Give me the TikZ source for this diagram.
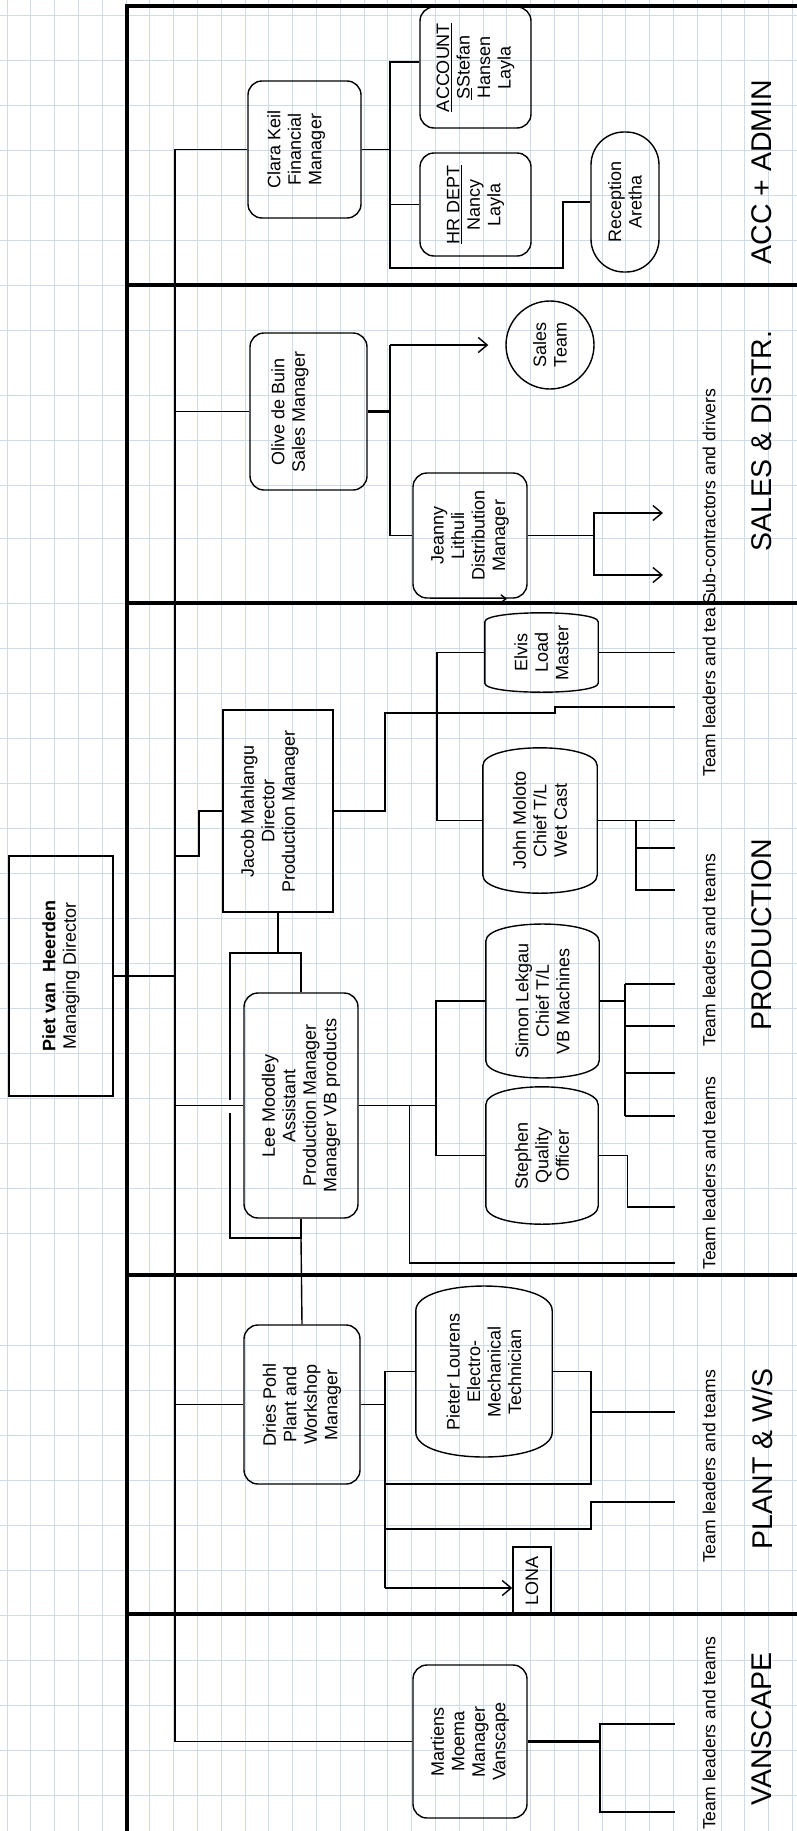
\documentclass[tikz,border=0pt]{standalone}
\usepackage{fontspec}
\setmainfont{Liberation Sans}
\usetikzlibrary{positioning}
\usetikzlibrary{arrows.meta}
\definecolor{gridblue}{RGB}{206,219,233}
\newcommand\boxfont{\fontsize{18}{20.5}\selectfont}
\newcommand\teamfont{\fontsize{17.6}{20}\selectfont}
\newcommand\deptfont{\fontsize{28.5}{32}\selectfont}
% outline with bulging top and bottom round a (rotated) node
\newcommand\barrel[2]{\draw[line width=1.4pt] (#1.north east) -- (#1.north west)
    .. controls +(0,#2) and +(0,#2) .. (#1.south west) -- (#1.south east)
    .. controls +(0,-#2) and +(0,-#2) .. (#1.north east);}

\begin{document}
\begin{tikzpicture}[x=1pt, y=-1pt,
        link/.style={line width=1.4pt},
        frame/.style={line width=3.5pt},
        arr/.style={link, -{Straight Barb[length=9pt,width=15pt]}},
        post/.style={draw, line width=1.4pt, rotate=90, align=center, font=\boxfont,
            inner sep=2pt, rounded corners=14pt},
        head/.style={post, sharp corners},
        chief/.style={rotate=90, align=center, font=\boxfont, inner sep=2pt},
        team/.style={rotate=90, anchor=west, inner sep=0pt, font=\teamfont},
        dept/.style={rotate=90, inner sep=0pt, font=\deptfont}]
        \useasboundingbox (0,0) rectangle (797,1831);

        % squared paper
        \foreach \x in {7,30.8,...,797} \draw[gridblue, line width=0.9pt] (\x,0) -- (\x,1831);
        \foreach \y in {15,60,...,330} \draw[gridblue, line width=0.9pt] (0,\y) -- (797,\y);
        \foreach \y in {395,440,485,538} \draw[gridblue, line width=0.9pt] (0,\y) -- (797,\y);
        \foreach \y in {603,648,...,1275} \draw[gridblue, line width=0.9pt] (0,\y) -- (797,\y);
        \foreach \y in {1345,1390,...,1831} \draw[gridblue, line width=0.9pt] (0,\y) -- (797,\y);

        % departments
        \draw[frame] (797,6) -- (127,6) -- (127,1831);
        \foreach \y in {285,603,1275,1614} \draw[frame] (127,\y) -- (797,\y);

        \node[head, minimum width=240pt, minimum height=104pt] (piet) at (61,976)
            {\textbf{Piet van\ \ Heerden}\\Managing Director};

        \node[post, minimum width=137pt, minimum height=113pt] (clara) at (304.5,149.5)
            {Clara Keil\\Financial\\Manager\\\mbox{}};
        \node[post, minimum width=121pt, minimum height=111pt] (account) at (475.5,67.5)
            {\underline{ACCOUNT}\\\underline{S}Stefan\\Hansen\\Layla};
        \node[post, minimum width=103pt, minimum height=111pt] (hr) at (475.5,204.5) {\underline{HR DEPT}\\Nancy\\Layla};
        \node[post, rounded corners=33pt, minimum width=140pt, minimum height=68pt] (reception) at (625,202)
            {Reception\\Aretha};

        \node[post, minimum width=157pt, minimum height=117pt] (olive) at (308.5,411.5)
            {Olive de Buin\\Sales Manager\\\mbox{}\\\mbox{}};
        \node[post, circle, minimum size=88pt] (salesteam) at (550,345) {Sales\\Team};
        \node[post, minimum width=125pt, minimum height=114pt] (jeanny) at (470,535.5)
            {Jeanny\\Lithuli\\Distribution\\Manager};

        \node[head, minimum width=202pt, minimum height=110pt] (jacob) at (278,811)
            {Jacob Mahlangu\\Director\\Production Manager\\\mbox{}};
        \node[post, minimum width=225pt, minimum height=114pt] (lee) at (301,1105.5)
            {Lee Moodley\\Assistant\\Production Manager\\Manager VB products};
        \node[chief, minimum width=61pt, minimum height=113pt] (elvis) at (541.5,652.5) {Elvis\\Load\\Master};
        \node[chief, minimum width=109pt, minimum height=114pt] (john) at (540,820.5) {John Moloto\\Chief T/L\\Wet Cast};
        \node[chief, minimum width=112pt, minimum height=113pt] (simon) at (542.5,1001)
            {Simon Lekgau\\Chief T/L\\VB Machines};
        \node[chief, minimum width=101pt, minimum height=112pt] (stephen) at (542,1155.5) {Stephen\\Quality\\Officer};
        \barrel{elvis}{12}
        \barrel{john}{24}
        \barrel{simon}{23}
        \barrel{stephen}{24}

        \node[post, minimum width=159pt, minimum height=116pt] (dries) at (302,1404.5)
            {Dries Pohl\\Plant and\\Workshop\\Manager};
        \node[chief, minimum width=117pt, minimum height=136pt] (pieter) at (484,1371.5)
            {Pieter Lourens\\Electro-\\Mechanical\\Technician};
        \barrel{pieter}{33}
        \node[head, minimum width=67pt, minimum height=38pt, inner sep=1pt] (lona) at (532,1580.5) {LONA};

        \node[post, minimum width=153pt, minimum height=114pt] (martiens) at (470,1741.5)
            {Martiens\\Moema\\Manager\\Vanscape};

        % managing director to the managers
        \coordinate (spinetop) at (175,149.5);
        \coordinate (spinebot) at (175,1741.5);
        \coordinate (jacobjog) at (199,856);
        \draw[link] (clara.north) -- (spinetop) -- (spinebot) -- (martiens.north);
        \draw[link] (piet.south) -- (piet.south -| spinetop);
        \draw[link] (olive.north) -- (olive.north -| spinetop);
        \draw[link] (jacobjog -| spinetop) -- (jacobjog) |- (jacob.north);
        \draw[link] (lee.north) -- (lee.north -| spinetop);
        \draw[link] (dries.north) -- (dries.north -| spinetop);

        % acc + admin
        \coordinate (accbus) at (390,62);
        \coordinate (accend) at (390,268);
        \draw[link] (clara.south) -- (clara.south -| accbus);
        \draw[link] (account.north |- accbus) -- (accbus) -- (accend) -- ++(173,0) |- (reception.north);
        \draw[link] (hr.north) -- (hr.north -| accbus);

        % sales
        \coordinate (salesbus) at (390,345);
        \coordinate (salesend) at (390,535.5);
        \coordinate (subbus) at (594,535.5);
        \draw[link, line width=2.6pt] (olive.south) -- (olive.south -| salesbus);
        \draw[arr] (salesbus) -- ([xshift=-17pt]salesteam.north);
        \draw[link] (salesbus) -- (salesend) -- (jeanny.north);
        \draw[link] (jeanny.south) -- (subbus);
        \draw[arr] (subbus) |- (663,513);
        \draw[arr] (subbus) |- (663,575);
        \draw[link, -{Straight Barb[length=5pt,width=8pt]}] ([xshift=-40pt]jeanny.west) -- ([xshift=37pt]jeanny.west);

        % production
        \coordinate (leetop) at (301,953);
        \coordinate (leebot) at (301,1238);
        \coordinate (chiefbus) at (436,1001);
        \draw[link] (jacob.west) -- (jacob.west |- leetop);
        \draw[link] (lee.east) -- (leetop) -- ++(-71,0) -- ++(0,147);
        \draw[link] (lee.west) -- (leebot) -- ++(-71,0) -- ++(0,-125);
        \draw[link] (leebot) -- (dries.east);
        \draw[link] (jacob.south) -| (385,713) -- ++(170,0) |- (675,707);
        \draw[link] (elvis.north) -- ++(-48,0) |- (john.north);
        \draw[link] (elvis.south) -- ++(77,0);
        \draw[link] (john.south) -- (675,820.5);
        \draw[link] (636,820.5) |- (675,890);
        \draw[link] (636,848) -- (675,848);
        \draw[link] (lee.south) -- (lee.south -| chiefbus);
        \draw[link] (simon.north) -- (chiefbus) |- (stephen.north);
        \draw[link] (lee.south) ++(51,0) |- (675,1263);
        \draw[link] (simon.south) -- (625,1001);
        \draw[link] (625,984) -- (625,1116);
        \foreach \y in {984,1026,1073,1116} \draw[link] (625,\y) -- (675,\y);
        \draw[link] (stephen.south) -- ++(29,0) |- (675,1207);

        % plant & w/s
        \coordinate (plantbus) at (385,1404.5);
        \coordinate (lonafeed) at (385,1588);
        \coordinate (techbus) at (591,1484);
        \draw[link] (dries.south) -- (plantbus);
        \draw[link] (pieter.north) -- (pieter.north -| plantbus) -- (lonafeed);
        \draw[arr] (lonafeed) -- (lonafeed -| lona.north);
        \draw[link] (pieter.south) -| (techbus) -- (techbus -| plantbus);
        \draw[link] (591,1412) -- (675,1412);
        \draw[link] (385,1529) -- (591,1529) |- (675,1502);

        % vanscape
        \coordinate (vanbus) at (600,1741.5);
        \draw[link, line width=2.6pt] (martiens.south) -- (vanbus);
        \draw[link] (675,1724) -| (vanbus) |- (675,1812);

        % teams
        \node[team] (subteam) at (709,605) {Sub-contractors and drivers};
        \node[team] (loadteam) at (709,777) {Team leaders and tea};
        \node[team] (castteam) at (709,1047) {Team leaders and teams};
        \node[team] (prodteam) at (709,1270) {Team leaders and teams};
        \node[team] (plantteam) at (709,1563) {Team leaders and teams};
        \node[team] (vanteam) at (709,1830) {Team leaders and teams};

        \node[dept] (accdept) at (762,172) {ACC + ADMIN};
        \node[dept] (salesdept) at (762,441) {SALES \& DISTR.};
        \node[dept] (proddept) at (762,935) {PRODUCTION};
        \node[dept] (plantdept) at (762,1459) {PLANT \& W/S};
        \node[dept] (vandept) at (762,1729) {VANSCAPE};
    \end{tikzpicture}
\end{document}
